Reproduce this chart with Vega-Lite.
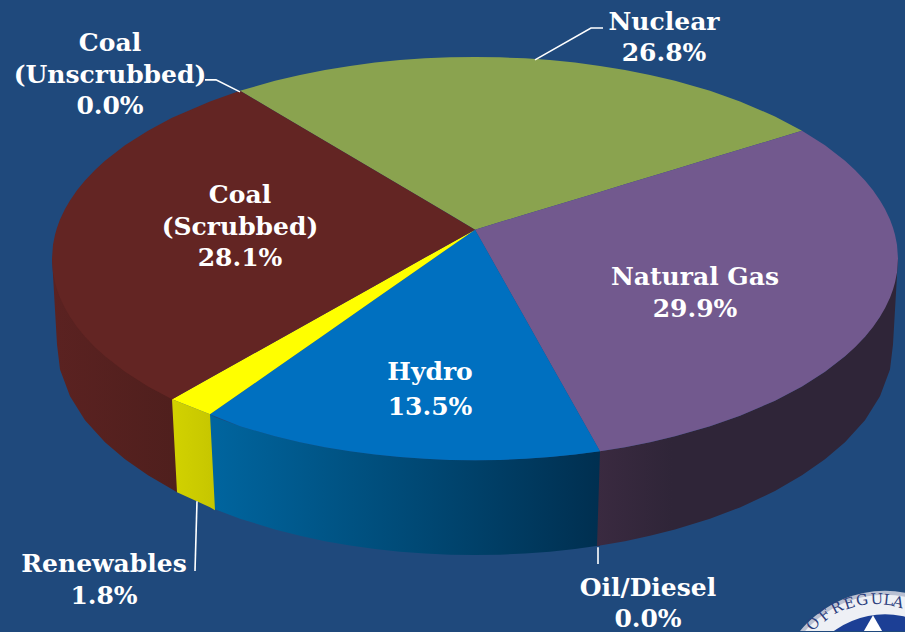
{"$schema":"https://vega.github.io/schema/vega-lite/v6.json","width":905,"height":632,"padding":0,"autosize":{"type":"fit","contains":"padding"},"background":"#1f497c",
"config":{"view":{"stroke":null}},
"datasets":{
"coalWall":[{"x":52,"y":259,"y2":259},{"x":57,"y":259,"y2":345},{"x":60,"y":259,"y2":370},{"x":70,"y":259,"y2":397},{"x":85,"y":259,"y2":421},{"x":105,"y":259,"y2":443},{"x":125,"y":259,"y2":460},{"x":148,"y":259,"y2":476},{"x":172,"y":259,"y2":490},{"x":177,"y":259,"y2":493}],
"hydroWall":[{"x":210,"y":415,"y2":508},{"x":215,"y":418,"y2":510},{"x":240,"y":427,"y2":519.5},{"x":275,"y":437,"y2":530.3},{"x":300,"y":442.9,"y2":536.6},{"x":325,"y":447.9,"y2":542},{"x":350,"y":452,"y2":546.4},{"x":375,"y":455.3,"y2":549.9},{"x":400,"y":457.8,"y2":552.6},{"x":425,"y":459.6,"y2":554.5},{"x":450,"y":460.7,"y2":555.6},{"x":475,"y":461,"y2":556},{"x":500,"y":460.7,"y2":555.6},{"x":525,"y":459.6,"y2":554.5},{"x":550,"y":457.8,"y2":552.6},{"x":575,"y":455.3,"y2":549.9},{"x":600,"y":452,"y2":546.4}],
"renewWall":[{"x":172,"y":400,"y2":400},{"x":177,"y":402,"y2":493},{"x":210,"y":415,"y2":508},{"x":215,"y":511,"y2":511}],
"gasWall":[{"x":597,"y":547,"y2":547},{"x":600,"y":452,"y2":546.4},{"x":625,"y":447.9,"y2":542},{"x":650,"y":442.9,"y2":536.6},{"x":675,"y":437,"y2":530.3},{"x":710,"y":427,"y2":519.5},{"x":740,"y":416.4,"y2":508.2},{"x":775,"y":401.4,"y2":491.9},{"x":802,"y":387.1,"y2":476},{"x":825,"y":372.4,"y2":460},{"x":845,"y":356.9,"y2":443},{"x":865,"y":337.2,"y2":421},{"x":880,"y":317.3,"y2":397},{"x":890,"y":259,"y2":370},{"x":893,"y":259,"y2":345},{"x":898,"y":259,"y2":259}],
"top":[
{"slice":"Nuclear","x":240,"y":91,"y2":91},{"slice":"Nuclear","x":275,"y":81,"y2":111.7},{"slice":"Nuclear","x":300,"y":75.1,"y2":126.5},{"slice":"Nuclear","x":325,"y":70.1,"y2":141.3},{"slice":"Nuclear","x":350,"y":66,"y2":156},{"slice":"Nuclear","x":375,"y":62.7,"y2":170.8},{"slice":"Nuclear","x":400,"y":60.2,"y2":185.6},{"slice":"Nuclear","x":425,"y":58.4,"y2":200.4},{"slice":"Nuclear","x":450,"y":57.4,"y2":215.2},{"slice":"Nuclear","x":475,"y":57,"y2":230},{"slice":"Nuclear","x":500,"y":57.4,"y2":222.4},{"slice":"Nuclear","x":525,"y":58.4,"y2":214.9},{"slice":"Nuclear","x":550,"y":60.2,"y2":207.3},{"slice":"Nuclear","x":575,"y":62.7,"y2":199.7},{"slice":"Nuclear","x":600,"y":66,"y2":192.2},{"slice":"Nuclear","x":625,"y":70.1,"y2":184.6},{"slice":"Nuclear","x":650,"y":75.1,"y2":177},{"slice":"Nuclear","x":675,"y":81,"y2":169.4},{"slice":"Nuclear","x":710,"y":91,"y2":158.8},{"slice":"Nuclear","x":740,"y":101.6,"y2":149.8},{"slice":"Nuclear","x":775,"y":116.6,"y2":139.2},{"slice":"Nuclear","x":802,"y":131,"y2":131},
{"slice":"Natural Gas","x":475,"y":230,"y2":230},{"slice":"Natural Gas","x":500,"y":222.4,"y2":274.4},{"slice":"Natural Gas","x":525,"y":214.9,"y2":318.8},{"slice":"Natural Gas","x":550,"y":207.3,"y2":363.2},{"slice":"Natural Gas","x":575,"y":199.7,"y2":407.6},{"slice":"Natural Gas","x":600,"y":192.2,"y2":452},{"slice":"Natural Gas","x":625,"y":184.6,"y2":447.9},{"slice":"Natural Gas","x":650,"y":177,"y2":442.9},{"slice":"Natural Gas","x":675,"y":169.4,"y2":437},{"slice":"Natural Gas","x":710,"y":158.8,"y2":427},{"slice":"Natural Gas","x":740,"y":149.8,"y2":416.4},{"slice":"Natural Gas","x":775,"y":139.2,"y2":401.4},{"slice":"Natural Gas","x":802,"y":131,"y2":387.1},{"slice":"Natural Gas","x":825,"y":145.6,"y2":372.4},{"slice":"Natural Gas","x":845,"y":161.1,"y2":356.9},{"slice":"Natural Gas","x":855,"y":170.3,"y2":347.7},{"slice":"Natural Gas","x":865,"y":180.8,"y2":337.2},{"slice":"Natural Gas","x":873,"y":190.6,"y2":327.4},{"slice":"Natural Gas","x":880,"y":200.7,"y2":317.3},{"slice":"Natural Gas","x":885,"y":209.3,"y2":308.7},{"slice":"Natural Gas","x":890,"y":219.9,"y2":298.1},{"slice":"Natural Gas","x":893,"y":228,"y2":290},{"slice":"Natural Gas","x":895,"y":235,"y2":283},{"slice":"Natural Gas","x":897,"y":245.1,"y2":272.9},{"slice":"Natural Gas","x":898,"y":259,"y2":259},
{"slice":"Hydro","x":210,"y":415,"y2":415},{"slice":"Hydro","x":240,"y":394,"y2":427},{"slice":"Hydro","x":275,"y":369.6,"y2":437},{"slice":"Hydro","x":300,"y":352.2,"y2":442.9},{"slice":"Hydro","x":325,"y":334.7,"y2":447.9},{"slice":"Hydro","x":350,"y":317.3,"y2":452},{"slice":"Hydro","x":375,"y":299.8,"y2":455.3},{"slice":"Hydro","x":400,"y":282.4,"y2":457.8},{"slice":"Hydro","x":425,"y":264.9,"y2":459.6},{"slice":"Hydro","x":450,"y":247.5,"y2":460.7},{"slice":"Hydro","x":475,"y":230,"y2":461},{"slice":"Hydro","x":500,"y":274.4,"y2":460.7},{"slice":"Hydro","x":525,"y":318.8,"y2":459.6},{"slice":"Hydro","x":550,"y":363.2,"y2":457.8},{"slice":"Hydro","x":575,"y":407.6,"y2":455.3},{"slice":"Hydro","x":600,"y":452,"y2":452},
{"slice":"Renewables","x":172,"y":400,"y2":400},{"slice":"Renewables","x":210,"y":378.7,"y2":415},{"slice":"Renewables","x":275,"y":342.2,"y2":369.6},{"slice":"Renewables","x":325,"y":314.2,"y2":334.7},{"slice":"Renewables","x":375,"y":286.1,"y2":299.8},{"slice":"Renewables","x":425,"y":258,"y2":264.9},{"slice":"Renewables","x":475,"y":230,"y2":230},
{"slice":"Coal (Scrubbed)","x":52,"y":259,"y2":259},{"slice":"Coal (Scrubbed)","x":53,"y":245.1,"y2":272.9},{"slice":"Coal (Scrubbed)","x":55,"y":235,"y2":283},{"slice":"Coal (Scrubbed)","x":57,"y":228,"y2":290},{"slice":"Coal (Scrubbed)","x":60,"y":219.9,"y2":298.1},{"slice":"Coal (Scrubbed)","x":65,"y":209.3,"y2":308.7},{"slice":"Coal (Scrubbed)","x":70,"y":200.7,"y2":317.3},{"slice":"Coal (Scrubbed)","x":77,"y":190.6,"y2":327.4},{"slice":"Coal (Scrubbed)","x":85,"y":180.8,"y2":337.2},{"slice":"Coal (Scrubbed)","x":95,"y":170.3,"y2":347.7},{"slice":"Coal (Scrubbed)","x":105,"y":161.1,"y2":356.9},{"slice":"Coal (Scrubbed)","x":125,"y":145.6,"y2":372.4},{"slice":"Coal (Scrubbed)","x":148,"y":130.9,"y2":387.1},{"slice":"Coal (Scrubbed)","x":172,"y":118,"y2":400},{"slice":"Coal (Scrubbed)","x":175,"y":116.6,"y2":398.3},{"slice":"Coal (Scrubbed)","x":210,"y":101.6,"y2":378.7},{"slice":"Coal (Scrubbed)","x":240,"y":91,"y2":361.9},{"slice":"Coal (Scrubbed)","x":275,"y":111.7,"y2":342.2},{"slice":"Coal (Scrubbed)","x":325,"y":141.3,"y2":314.2},{"slice":"Coal (Scrubbed)","x":375,"y":170.8,"y2":286.1},{"slice":"Coal (Scrubbed)","x":425,"y":200.4,"y2":258},{"slice":"Coal (Scrubbed)","x":475,"y":230,"y2":230}
],
"leaders":[
{"slice":"Coal (Unscrubbed)","x":205,"y":80},{"slice":"Coal (Unscrubbed)","x":216,"y":80},{"slice":"Coal (Unscrubbed)","x":240,"y":92},
{"slice":"Nuclear","x":603,"y":28},{"slice":"Nuclear","x":591,"y":28},{"slice":"Nuclear","x":535,"y":60},
{"slice":"Renewables","x":197,"y":502},{"slice":"Renewables","x":195,"y":572},
{"slice":"Oil/Diesel","x":598,"y":548},{"slice":"Oil/Diesel","x":598,"y":565}
],
"labels":[
{"x":664,"y":30,"t":"Nuclear"},{"x":664,"y":61,"t":"26.8%"},
{"x":110,"y":51,"t":"Coal"},{"x":110,"y":83,"t":"(Unscrubbed)"},{"x":110,"y":114,"t":"0.0%"},
{"x":240,"y":203,"t":"Coal"},{"x":240,"y":235,"t":"(Scrubbed)"},{"x":240,"y":266,"t":"28.1%"},
{"x":695,"y":285,"t":"Natural Gas"},{"x":695,"y":318,"t":"29.9%"},
{"x":430,"y":381,"t":"Hydro"},{"x":430,"y":416,"t":"13.5%"},
{"x":104,"y":573,"t":"Renewables"},{"x":104,"y":605,"t":"1.8%"},
{"x":648,"y":597,"t":"Oil/Diesel"},{"x":648,"y":628,"t":"0.0%"}
],
"seal":[{"x":885,"y":702}],
"sealLeaf":[{"x":873,"y":640}],
"sealText":[{"x":817,"y":628,"t":"O","a":-50},{"x":828,"y":620,"t":"F","a":-40},{"x":839,"y":613,"t":"R","a":-27},{"x":851,"y":609,"t":"E","a":-18},{"x":863,"y":606,"t":"G","a":-10},{"x":877,"y":605,"t":"U","a":-2},{"x":888,"y":606,"t":"L","a":6},{"x":897,"y":608,"t":"A","a":14}]
},
"encoding":{
"x":{"field":"x","type":"quantitative","scale":{"domain":[0,905],"nice":false,"zero":false},"axis":null},
"y":{"field":"y","type":"quantitative","scale":{"domain":[0,632],"reverse":true,"nice":false,"zero":false},"axis":null}
},
"layer":[
{"data":{"name":"seal"},"mark":{"type":"point","filled":true,"opacity":1,"size":48400,"color":"#b9c0d2","clip":true}},
{"data":{"name":"seal"},"mark":{"type":"point","filled":true,"opacity":1,"size":45000,"color":"#eef0f5","clip":true}},
{"data":{"name":"seal"},"mark":{"type":"point","filled":true,"opacity":1,"size":30000,"color":"#1c3f95","clip":true}},
{"data":{"name":"sealLeaf"},"mark":{"type":"point","filled":true,"opacity":1,"shape":"triangle-up","size":3000,"color":"#ffffff","clip":true}},
{"data":{"name":"sealText"},"mark":{"type":"text","font":"DejaVu Serif","fontSize":15,"color":"#2c3e7d","clip":true,"baseline":"alphabetic"},"encoding":{"text":{"field":"t"},"angle":{"field":"a","type":"quantitative","scale":null}}},
{"data":{"name":"coalWall"},"mark":{"type":"area","color":{"gradient":"linear","x1":0,"x2":1,"y1":0,"y2":0,"stops":[{"offset":0,"color":"#5b2221"},{"offset":1,"color":"#4f1f1d"}]}},"encoding":{"y2":{"field":"y2"}}},
{"data":{"name":"hydroWall"},"mark":{"type":"area","color":{"gradient":"linear","x1":0,"x2":1,"y1":0,"y2":0,"stops":[{"offset":0,"color":"#00659f"},{"offset":0.4,"color":"#00507f"},{"offset":1,"color":"#002f50"}]}},"encoding":{"y2":{"field":"y2"}}},
{"data":{"name":"renewWall"},"mark":{"type":"area","color":{"gradient":"linear","x1":0,"x2":1,"y1":0,"y2":0,"stops":[{"offset":0,"color":"#d2d200"},{"offset":1,"color":"#c6c600"}]}},"encoding":{"y2":{"field":"y2"}}},
{"data":{"name":"gasWall"},"mark":{"type":"area","color":{"gradient":"linear","x1":0,"x2":1,"y1":0,"y2":0,"stops":[{"offset":0,"color":"#3a2a40"},{"offset":0.25,"color":"#2f2538"},{"offset":1,"color":"#2f2538"}]}},"encoding":{"y2":{"field":"y2"}}},
{"data":{"name":"top"},"mark":{"type":"area"},"encoding":{"y2":{"field":"y2"},"color":{"field":"slice","type":"nominal","legend":null,"scale":{"domain":["Nuclear","Natural Gas","Hydro","Renewables","Coal (Scrubbed)"],"range":["#8aa34f","#72598e","#0070c0","#ffff00","#632523"]}}}},
{"data":{"name":"leaders"},"mark":{"type":"line","color":"#ffffff","strokeWidth":1.6},"encoding":{"detail":{"field":"slice"}}},
{"data":{"name":"labels"},"mark":{"type":"text","font":"DejaVu Serif","fontWeight":"bold","fontSize":25,"color":"#ffffff","baseline":"alphabetic","align":"center"},"encoding":{"text":{"field":"t"}}}
]}
